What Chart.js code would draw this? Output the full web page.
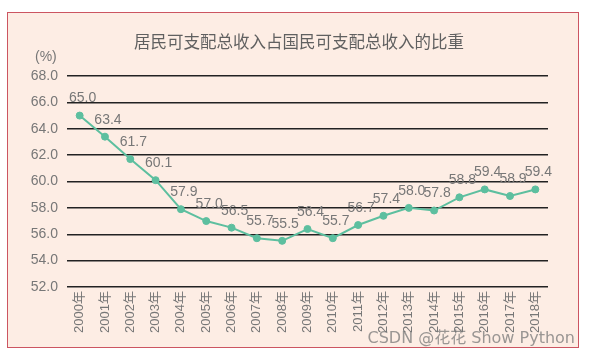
<!DOCTYPE html>
<html><head><meta charset="utf-8">
<script src="https://cdn.jsdelivr.net/npm/chart.js@4/dist/chart.umd.min.js"></script>
<style>html,body{margin:0;padding:0;background:#fff;}#wrap{width:589px;height:358px;position:relative;}</style>
</head><body><div id="wrap"><canvas id="c" width="589" height="358"></canvas></div>
<script>
const years = ["2000年","2001年","2002年","2003年","2004年","2005年","2006年","2007年","2008年","2009年","2010年","2011年","2012年","2013年","2014年","2015年","2016年","2017年","2018年"];
const shares = [65.0,63.4,61.7,60.1,57.9,57.0,56.5,55.7,55.5,56.4,55.7,56.7,57.4,58.0,57.8,58.8,59.4,58.9,59.4];
const titleText = "居民可支配总收入占国民可支配总收入的比重";
const unitText = "(%)";
const watermark = "CSDN @花花 Show Python";
const FONT = "'Liberation Sans','Noto Sans CJK SC',sans-serif";

const framePlugin = {
  id: 'frame',
  beforeDraw(chart) {
    const ctx = chart.ctx;
    ctx.save();
    ctx.fillStyle = '#fff';
    ctx.fillRect(0,0,chart.width,chart.height);
    ctx.fillStyle = '#fdede4';
    ctx.fillRect(7.5,12.5,571,335);
    ctx.strokeStyle = '#cc5561';
    ctx.lineWidth = 1;
    ctx.strokeRect(7.5,12.5,571,335);
    ctx.fillStyle = '#606060';
    ctx.font = "16.5px 'Noto Sans CJK SC',sans-serif";
    ctx.textAlign = 'center';
    ctx.textBaseline = 'middle';
    ctx.fillText(titleText, 299, 42);
    ctx.fillStyle = '#777';
    ctx.font = "14px " + FONT;
    ctx.textAlign = 'left';
    ctx.fillText(unitText, 35, 57);
    ctx.restore();
  },
  afterDraw(chart) {
    const ctx = chart.ctx;
    const meta = chart.getDatasetMeta(0);
    ctx.save();
    ctx.fillStyle = '#777';
    ctx.font = "14px " + FONT;
    ctx.textAlign = 'center';
    ctx.textBaseline = 'middle';
    meta.data.forEach((pt, i) => {
      ctx.fillText(shares[i].toFixed(1), pt.x + 3, pt.y - 17);
    });
    ctx.fillStyle = 'rgba(120,120,120,0.75)';
    ctx.font = "16px 'DejaVu Sans','Noto Sans CJK SC',sans-serif";
    ctx.textAlign = 'right';
    ctx.textBaseline = 'middle';
    ctx.fillText(watermark, 575, 339);
    ctx.restore();
  }
};

new Chart(document.getElementById('c'), {
  type: 'line',
  data: {
    labels: years,
    datasets: [{
      data: shares,
      borderColor: '#5dbf9f',
      backgroundColor: '#5dbf9f',
      borderWidth: 2,
      pointRadius: 3.5,
      pointBorderWidth: 1,
      pointHoverRadius: 3.5,
      tension: 0
    }]
  },
  options: {
    responsive: false,
    animation: false,
    events: [],
    layout: { padding: { left: 0, right: 41, top: 76, bottom: 0 } },
    plugins: { legend: { display: false }, tooltip: { enabled: false }, title: { display: false } },
    scales: {
      x: {
        offset: true,
        grid: { display: false, drawTicks: false },
        border: { display: false },
        ticks: { color: '#777', font: { family: FONT, size: 13 }, minRotation: 90, maxRotation: 90, padding: 4, autoSkip: false },
        afterFit(s) { s.height = 71; }
      },
      y: {
        min: 52, max: 68,
        grid: { color: '#222', lineWidth: 1.5, drawTicks: false },
        border: { display: false },
        ticks: { stepSize: 2, color: '#777', font: { family: FONT, size: 14 }, padding: 9, callback: v => v.toFixed(1) },
        afterFit(s) { s.width = 67; }
      }
    }
  },
  plugins: [framePlugin]
});
</script></body></html>
